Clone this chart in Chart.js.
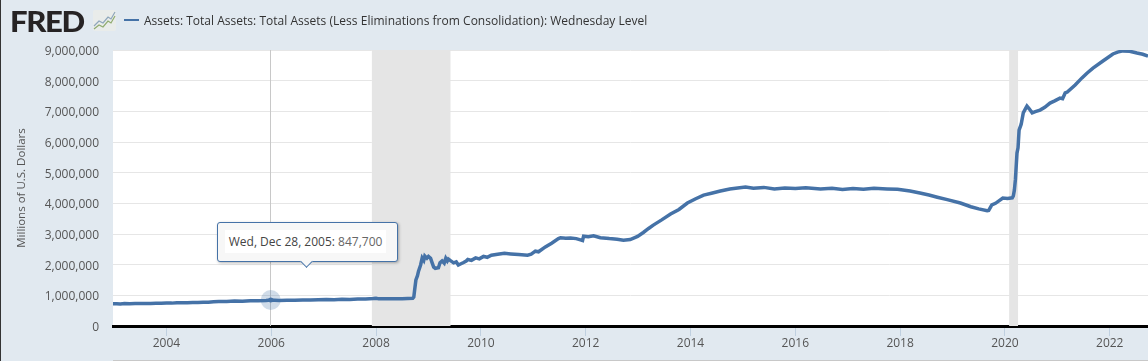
<!DOCTYPE html>
<html>
<head>
<meta charset="utf-8">
<title>FRED Total Assets</title>
<script src="https://cdn.jsdelivr.net/npm/chart.js@4"></script>
<style>
  html, body { margin: 0; padding: 0; background: #e1e9f0; overflow: hidden; }
  body { width: 1148px; height: 361px; position: relative; font-family: "Open Sans", sans-serif; }
  #chart { position: absolute; left: 0; top: 0; }
  #edge { position: absolute; left: 0; top: 0; width: 1px; height: 361px; background: #333; }
  #foot { position: absolute; left: 113px; right: 0; top: 360px; height: 1px; background: #c8c8c8; }
  #logo { position: absolute; left: 10px; top: 4px; font: 900 28px/34px Lato, sans-serif; color: #262324; letter-spacing: -1.2px; transform: scaleX(1.11); transform-origin: left top; }
  #icon { position: absolute; left: 93px; top: 10px; }
  #swatch { position: absolute; left: 124px; top: 19px; width: 15px; height: 2px; background: #4572a7; }
  #series { position: absolute; left: 144px; top: 12px; font-size: 12px; line-height: 17px; color: #333; letter-spacing: .02px; }
  #tip { position: absolute; top: 222px; width: 179px; height: 38px; background: #f7f7f7; border: 1px solid #4572a7; border-radius: 3px; box-shadow: 1px 1px 3px rgba(0,0,0,.3); }
  #tip .txt { position: absolute; left: 7px; top: 7px; height: 23px; padding: 0 4px; line-height: 23px; font-size: 12px; background: #fff; white-space: nowrap; color: #444; }
  #tip .txt b { font-weight: 500; }
  #tip .txt span { color: #666; }
  #caret { position: absolute; left: 84px; top: 34px; width: 8px; height: 8px; background: #f7f7f7; border-right: 1px solid #4572a7; border-bottom: 1px solid #4572a7; transform: rotate(45deg); }
</style>
</head>
<body>
<canvas id="chart" width="1148" height="361"></canvas>
<div id="edge"></div>
<div id="foot"></div>
<div id="logo">FRED</div>
<svg id="icon" width="23" height="21" viewBox="0 0 23 21">
  <rect width="23" height="21" rx="2" fill="#e9ecea"/>
  <polyline points="1,16 6,11 10,13 15,7 18,9 22,2" fill="none" stroke="#8ea6bb" stroke-width="1.2"/>
  <polyline points="1,19 6,15 10,17 15,11 18,13 22,6" fill="none" stroke="#8fab6f" stroke-width="1.2"/>
</svg>
<div id="swatch"></div>
<div id="series">Assets: Total Assets: Total Assets (Less Eliminations from Consolidation): Wednesday Level</div>
<div id="tip">
  <div class="txt"><b>Wed, Dec 28, 2005:</b> <span>847,700</span></div>
  <div id="caret"></div>
</div>

<script>
// decimal years
let dates = [
  2002.96, 2003.05, 2003.12, 2003.2, 2003.3, 2003.4, 2003.5, 2003.6, 2003.7, 2003.8, 2003.9,
  2004.0, 2004.1, 2004.2, 2004.3, 2004.4, 2004.5, 2004.6, 2004.7, 2004.8, 2004.9,
  2005.0, 2005.15, 2005.3, 2005.45, 2005.6, 2005.75, 2005.9, 2005.99,
  2006.15, 2006.3, 2006.45, 2006.6, 2006.75, 2006.9,
  2007.05, 2007.2, 2007.35, 2007.5, 2007.65, 2007.8, 2007.95, 2008.0, 2008.05,
  2008.2, 2008.35, 2008.5, 2008.6, 2008.7,
  2008.72, 2008.74, 2008.76, 2008.79, 2008.81, 2008.85, 2008.88, 2008.91, 2008.93, 2008.97, 2009.0,
  2009.04, 2009.07, 2009.1, 2009.13, 2009.16, 2009.19, 2009.22, 2009.26, 2009.3, 2009.33, 2009.36, 2009.38,
  2009.42, 2009.48, 2009.53, 2009.57, 2009.62, 2009.67, 2009.72, 2009.75, 2009.82, 2009.9, 2009.97, 2010.05,
  2010.12, 2010.2, 2010.32, 2010.45, 2010.57, 2010.72, 2010.89, 2010.96, 2011.04, 2011.1, 2011.23, 2011.35, 2011.48, 2011.52,
  2011.62, 2011.71, 2011.82, 2011.9, 2011.94, 2011.96, 2012.05, 2012.15, 2012.28, 2012.45, 2012.6, 2012.72, 2012.85, 2012.99,
  2013.1, 2013.2, 2013.29, 2013.45, 2013.62, 2013.78, 2013.94, 2014.1, 2014.25, 2014.4, 2014.57, 2014.75, 2014.9, 2015.05,
  2015.2, 2015.4, 2015.6, 2015.8, 2016.0, 2016.2, 2016.48, 2016.7, 2016.9, 2017.1, 2017.3, 2017.5, 2017.75, 2017.95,
  2018.19, 2018.4, 2018.55, 2018.71, 2018.9, 2019.15, 2019.35, 2019.5, 2019.66, 2019.69, 2019.75, 2019.82, 2019.96, 2020.05, 2020.14,
  2020.16, 2020.18, 2020.2, 2020.23, 2020.25, 2020.27, 2020.31, 2020.35, 2020.39, 2020.42, 2020.46, 2020.52, 2020.58, 2020.67, 2020.76, 2020.86,
  2020.95, 2021.05, 2021.1, 2021.15, 2021.19, 2021.34, 2021.47, 2021.57, 2021.68, 2021.87, 2022.06, 2022.15, 2022.25,
  2022.38, 2022.52, 2022.63, 2022.73
];
let assets = [
  722000, 728000, 718000, 732000, 726000, 735000, 730000, 737000, 733000, 741000, 745000,
  752000, 746000, 755000, 760000, 757000, 770000, 765000, 778000, 775000, 790000,
  796000, 795000, 812000, 808000, 825000, 822000, 835000, 847700,
  832000, 842000, 838000, 850000, 846000, 858000,
  866000, 860000, 872000, 865000, 880000, 884000, 895000, 905000, 885000,
  885000, 892000, 888000, 900000, 905000,
  945000, 1230000, 1500000, 1640000, 1790000, 1990000, 2220000, 2140000, 2280000, 2210000, 2270000,
  2210000, 2060000, 1920000, 1880000, 1890000, 1900000, 2060000, 2120000, 2050000, 2210000, 2120000, 2180000,
  2130000, 2060000, 2090000, 1990000, 2030000, 2070000, 2120000, 2170000, 2140000, 2220000, 2190000, 2270000,
  2240000, 2310000, 2340000, 2370000, 2350000, 2330000, 2310000, 2340000, 2440000, 2420000, 2580000, 2700000, 2850000, 2880000,
  2860000, 2870000, 2850000, 2810000, 2790000, 2930000, 2910000, 2940000, 2880000, 2850000, 2830000, 2800000, 2820000, 2920000,
  3050000, 3180000, 3290000, 3460000, 3650000, 3800000, 4010000, 4150000, 4270000, 4330000, 4400000, 4470000, 4500000, 4530000,
  4490000, 4520000, 4470000, 4500000, 4480000, 4510000, 4470000, 4490000, 4450000, 4480000, 4460000, 4490000, 4470000, 4460000,
  4400000, 4330000, 4270000, 4200000, 4120000, 4010000, 3890000, 3820000, 3760000, 3770000, 3950000, 4000000, 4170000, 4160000, 4180000,
  4240000, 4430000, 4780000, 5640000, 5810000, 6390000, 6580000, 6950000, 7080000, 7170000, 7090000, 6950000, 6990000, 7040000, 7130000, 7270000,
  7340000, 7430000, 7410000, 7600000, 7630000, 7860000, 8090000, 8250000, 8410000, 8640000, 8870000, 8930000, 8970000,
  8960000, 8900000, 8860000, 8800000
];
let yearTicks = [2004, 2006, 2008, 2010, 2012, 2014, 2016, 2018, 2020, 2022];
let valueTicks = [0, 1000000, 2000000, 3000000, 4000000, 5000000, 6000000, 7000000, 8000000, 9000000];
let recessionStart = [2007.92, 2020.08];
let recessionEnd = [2009.42, 2020.25];
let hoverDate = 2005.99;
let hoverValue = 847700;

// white plot area, recession bands under the line
let bandsPlugin = {
  id: 'bands',
  beforeDraw(chart) {
    let a = chart.chartArea;
    chart.ctx.fillStyle = '#ffffff';
    chart.ctx.fillRect(a.left, a.top, a.right - a.left, a.bottom - a.top);
  },
  beforeDatasetsDraw(chart) {
    let a = chart.chartArea;
    let x = chart.scales.x;
    chart.ctx.fillStyle = '#e5e5e5';
    for (let i = 0; i < recessionStart.length; i++) {
      let x1 = x.getPixelForValue(recessionStart[i]);
      let x2 = x.getPixelForValue(recessionEnd[i]);
      chart.ctx.fillRect(x1, a.top, x2 - x1, a.bottom - a.top);
    }
  }
};

// crosshair and marker for the hovered point
let hoverPlugin = {
  id: 'hover',
  afterDatasetsDraw(chart) {
    let ctx = chart.ctx;
    let a = chart.chartArea;
    let px = chart.scales.x.getPixelForValue(hoverDate);
    let py = chart.scales.y.getPixelForValue(hoverValue);
    ctx.save();
    ctx.strokeStyle = '#c8c8c8';
    ctx.lineWidth = 1;
    ctx.beginPath();
    ctx.moveTo(Math.floor(px) + 0.5, a.top);
    ctx.lineTo(Math.floor(px) + 0.5, a.bottom);
    ctx.stroke();
    ctx.fillStyle = 'rgba(69,114,167,0.25)';
    ctx.beginPath();
    ctx.arc(px, py, 10, 0, Math.PI * 2);
    ctx.fill();
    ctx.fillStyle = '#4572a7';
    ctx.beginPath();
    ctx.arc(px, py, 2.5, 0, Math.PI * 2);
    ctx.fill();
    ctx.restore();
  }
};

let chart = new Chart(document.getElementById('chart').getContext('2d'), {
  type: 'line',
  data: {
    datasets: [{
      label: 'Assets: Total Assets: Total Assets (Less Eliminations from Consolidation): Wednesday Level',
      data: dates.map((d, i) => ({ x: d, y: assets[i] })),
      borderColor: '#4572a7',
      borderWidth: 3.5,
      pointRadius: 0,
      tension: 0
    }]
  },
  options: {
    responsive: false,
    animation: false,
    events: [],
    layout: { padding: { top: 50, left: 0, right: 0, bottom: 0 } },
    plugins: { legend: { display: false }, tooltip: { enabled: false } },
    scales: {
      x: {
        type: 'linear',
        min: 2002.98,
        max: 2022.73,
        afterBuildTicks: s => { s.ticks = yearTicks.map(v => ({ value: v })); },
        afterFit: s => { s.height = 35; },
        border: { color: '#000000', width: 3 },
        grid: { drawOnChartArea: false, tickColor: '#c0d0e0', tickLength: 10 },
        ticks: {
          autoSkip: false,
          maxRotation: 0,
          padding: 0,
          color: '#555555',
          font: { family: 'Open Sans', size: 12 },
          callback: v => String(v)
        }
      },
      y: {
        min: 0,
        max: 9000000,
        afterBuildTicks: s => { s.ticks = valueTicks.map(v => ({ value: v })); },
        afterFit: s => { s.width = 113; },
        border: { display: false },
        grid: { color: '#e6e6e6', drawTicks: false },
        title: {
          display: true,
          text: 'Millions of U.S. Dollars',
          color: '#555555',
          padding: { top: 15, bottom: 0 },
          font: { family: 'Open Sans', size: 11.5 }
        },
        ticks: {
          padding: 14,
          labelOffset: 1.5,
          color: '#555555',
          font: { family: 'Open Sans', size: 12 },
          callback: v => v.toLocaleString('en-US')
        }
      }
    }
  },
  plugins: [bandsPlugin, hoverPlugin]
});

// tooltip box sits up and to the right of the hovered point
document.getElementById('tip').style.left = (chart.scales.x.getPixelForValue(hoverDate) - 54) + 'px';
</script>
</body>
</html>
